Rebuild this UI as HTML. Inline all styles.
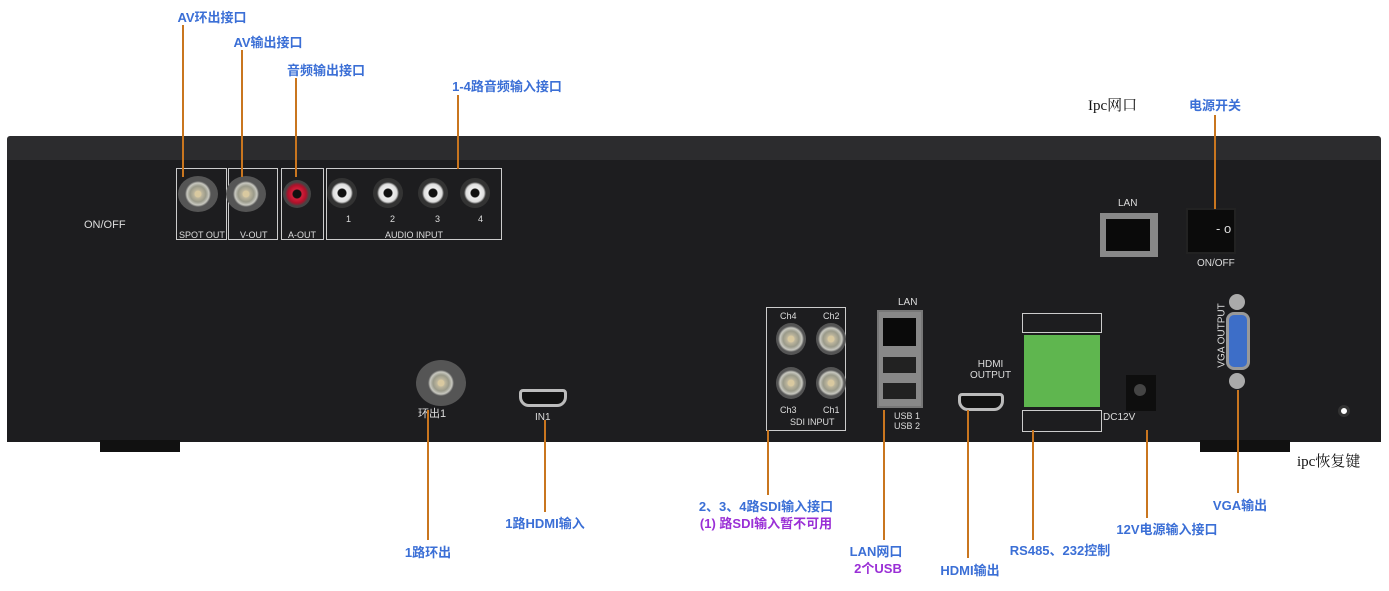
<!DOCTYPE html><html><head><meta charset="utf-8"><style>
body{margin:0;width:1389px;height:591px;background:#fff;position:relative;overflow:hidden;font-family:"Liberation Sans","Noto Sans CJK SC",sans-serif}
div{position:absolute;box-sizing:border-box}
.l{font-weight:bold;color:#3b6fd6;font-size:13px;white-space:nowrap;transform:translateX(-50%)}
.p{color:#9a2fd6}
.v{width:2px;background:#c9761f}
.w{color:#ddd;font-size:9px;white-space:nowrap;font-family:"Liberation Sans Narrow","Liberation Sans",sans-serif}
.box{border:1px solid #ccc}
.bnc{border-radius:50%;background:radial-gradient(circle,#d9c9a0 0 3px,#bcb59c 4px,#9a9a8a 8px,#c8c8c0 11px,#555 13px)}
.rca{border-radius:50%;background:radial-gradient(circle,#111 0 4px,#eee 5px,#ddd 9px,#333 11px)}
</style></head><body>
<div style="left:7px;top:136px;width:1374px;height:26px;background:#2c2c2e;border-radius:3px 3px 0 0"></div>
<div style="left:7px;top:160px;width:1374px;height:282px;background:#1d1d1f"></div>
<div style="left:100px;top:440px;width:80px;height:12px;background:#111"></div>
<div style="left:1200px;top:440px;width:90px;height:12px;background:#111"></div>
<div class="w" style="left:84px;top:219px;font-size:11px">ON/OFF</div>
<!-- top left ports -->
<div class="box" style="left:176px;top:168px;width:51px;height:72px"></div>
<div class="box" style="left:228px;top:168px;width:50px;height:72px"></div>
<div class="box" style="left:281px;top:168px;width:43px;height:72px"></div>
<div class="box" style="left:326px;top:168px;width:176px;height:72px"></div>
<div class="bnc" style="left:178px;top:176px;width:40px;height:36px"></div>
<div class="bnc" style="left:226px;top:176px;width:40px;height:36px"></div>
<div style="left:283px;top:180px;width:28px;height:28px;border-radius:50%;background:radial-gradient(circle,#111 0 4px,#d0203a 5px,#b0102a 9px,#444 12px)"></div>
<div class="rca" style="left:327px;top:178px;width:30px;height:30px"></div>
<div class="rca" style="left:373px;top:178px;width:30px;height:30px"></div>
<div class="rca" style="left:418px;top:178px;width:30px;height:30px"></div>
<div class="rca" style="left:460px;top:178px;width:30px;height:30px"></div>
<div class="w" style="left:346px;top:214px">1</div><div class="w" style="left:390px;top:214px">2</div><div class="w" style="left:435px;top:214px">3</div><div class="w" style="left:478px;top:214px">4</div>
<div class="w" style="left:179px;top:230px">SPOT OUT</div><div class="w" style="left:240px;top:230px">V-OUT</div><div class="w" style="left:288px;top:230px">A-OUT</div><div class="w" style="left:385px;top:230px">AUDIO INPUT</div>
<!-- bottom left -->
<div class="bnc" style="left:416px;top:360px;width:50px;height:46px"></div>
<div class="w" style="left:418px;top:405px;font-size:11px">环出1</div>
<div style="left:519px;top:389px;width:48px;height:18px;border:3px solid #bbb;border-radius:4px 4px 10px 10px;background:#111"></div>
<div class="w" style="left:535px;top:412px;font-size:10px">IN1</div>
<!-- SDI -->
<div class="box" style="left:766px;top:307px;width:80px;height:124px"></div>
<div class="w" style="left:780px;top:311px">Ch4</div><div class="w" style="left:823px;top:311px">Ch2</div>
<div class="bnc" style="left:776px;top:323px;width:30px;height:32px"></div><div class="bnc" style="left:816px;top:323px;width:30px;height:32px"></div>
<div class="bnc" style="left:776px;top:367px;width:30px;height:32px"></div><div class="bnc" style="left:816px;top:367px;width:30px;height:32px"></div>
<div class="w" style="left:780px;top:405px">Ch3</div><div class="w" style="left:823px;top:405px">Ch1</div>
<div class="w" style="left:790px;top:417px">SDI INPUT</div>
<!-- LAN/USB -->
<div class="w" style="left:898px;top:297px;font-size:10px">LAN</div>
<div style="left:877px;top:310px;width:46px;height:98px;background:#888;border:2px solid #777"></div>
<div style="left:883px;top:318px;width:33px;height:28px;background:#0a0a0a"></div>
<div style="left:883px;top:357px;width:33px;height:16px;background:#222"></div>
<div style="left:883px;top:383px;width:33px;height:16px;background:#222"></div>
<div class="w" style="left:894px;top:411px">USB 1<br>USB 2</div>
<!-- HDMI out -->
<div class="w" style="left:970px;top:359px;font-size:10px;text-align:center">HDMI<br>OUTPUT</div>
<div style="left:958px;top:393px;width:46px;height:18px;border:3px solid #bbb;border-radius:4px 4px 10px 10px;background:#111"></div>
<!-- terminal -->
<div style="left:1022px;top:313px;width:80px;height:20px;border:1px solid #ccc"></div>
<div style="left:1024px;top:335px;width:76px;height:72px;background:#5fb64f"></div>
<div style="left:1022px;top:410px;width:80px;height:22px;border:1px solid #ccc"></div>
<div class="w" style="left:1103px;top:412px;font-size:10px">DC12V</div>
<div style="left:1126px;top:375px;width:30px;height:36px;background:#0e0e0e"></div>
<div style="left:1134px;top:384px;width:12px;height:12px;border-radius:50%;background:#444"></div>
<!-- LAN top -->
<div class="w" style="left:1118px;top:198px;font-size:10px">LAN</div>
<div style="left:1100px;top:213px;width:58px;height:44px;background:#888;padding:6px"><div style="left:6px;top:6px;width:44px;height:32px;background:#0a0a0a"></div></div>
<!-- switch -->
<div style="left:1186px;top:208px;width:50px;height:46px;background:#0b0b0b;border:2px solid #222"></div>
<div class="w" style="left:1216px;top:221px;font-size:13px">- o</div>
<div class="w" style="left:1197px;top:258px;font-size:10px">ON/OFF</div>
<!-- VGA -->
<div style="left:1229px;top:294px;width:16px;height:16px;border-radius:50%;background:#aaa"></div>
<div style="left:1226px;top:312px;width:24px;height:58px;border-radius:8px;background:#3d6ec8;border:3px solid #999"></div>
<div style="left:1229px;top:373px;width:16px;height:16px;border-radius:50%;background:#aaa"></div>
<div class="w" style="left:1190px;top:330px;transform:rotate(-90deg);font-size:10px">VGA OUTPUT</div>
<div style="left:1338px;top:405px;width:12px;height:12px;border-radius:50%;background:#fff;border:3px solid #333"></div>
<!-- lines -->
<div class="v" style="left:182px;top:25px;height:152px"></div>
<div class="v" style="left:241px;top:50px;height:127px"></div>
<div class="v" style="left:295px;top:78px;height:99px"></div>
<div class="v" style="left:457px;top:95px;height:74px"></div>
<div class="v" style="left:1214px;top:115px;height:94px"></div>
<div class="v" style="left:427px;top:410px;height:130px"></div>
<div class="v" style="left:544px;top:420px;height:92px"></div>
<div class="v" style="left:767px;top:430px;height:65px"></div>
<div class="v" style="left:883px;top:410px;height:130px"></div>
<div class="v" style="left:967px;top:410px;height:148px"></div>
<div class="v" style="left:1032px;top:430px;height:110px"></div>
<div class="v" style="left:1146px;top:430px;height:88px"></div>
<div class="v" style="left:1237px;top:390px;height:103px"></div>
<!-- labels -->
<div class="l" style="left:212px;top:7px">AV环出接口</div>
<div class="l" style="left:268px;top:32px">AV输出接口</div>
<div class="l" style="left:326px;top:60px">音频输出接口</div>
<div class="l" style="left:507px;top:76px">1-4路音频输入接口</div>
<div style="left:1088px;top:94px;font-family:'Liberation Serif','Noto Serif CJK SC',serif;font-size:15px;color:#111">Ipc网口</div>
<div class="l" style="left:1215px;top:95px">电源开关</div>
<div style="left:1297px;top:450px;font-family:'Liberation Serif','Noto Serif CJK SC',serif;font-size:15px;color:#111">ipc恢复键</div>
<div class="l" style="left:428px;top:542px">1路环出</div>
<div class="l" style="left:545px;top:513px">1路HDMI输入</div>
<div class="l" style="left:766px;top:496px">2、3、4路SDI输入接口</div>
<div class="l p" style="left:766px;top:513px">(1) 路SDI输入暂不可用</div>
<div class="l" style="left:876px;top:541px">LAN网口</div>
<div class="l p" style="left:878px;top:558px">2个USB</div>
<div class="l" style="left:970px;top:560px">HDMI输出</div>
<div class="l" style="left:1060px;top:540px">RS485、232控制</div>
<div class="l" style="left:1167px;top:519px">12V电源输入接口</div>
<div class="l" style="left:1240px;top:495px">VGA输出</div>
</body></html>
